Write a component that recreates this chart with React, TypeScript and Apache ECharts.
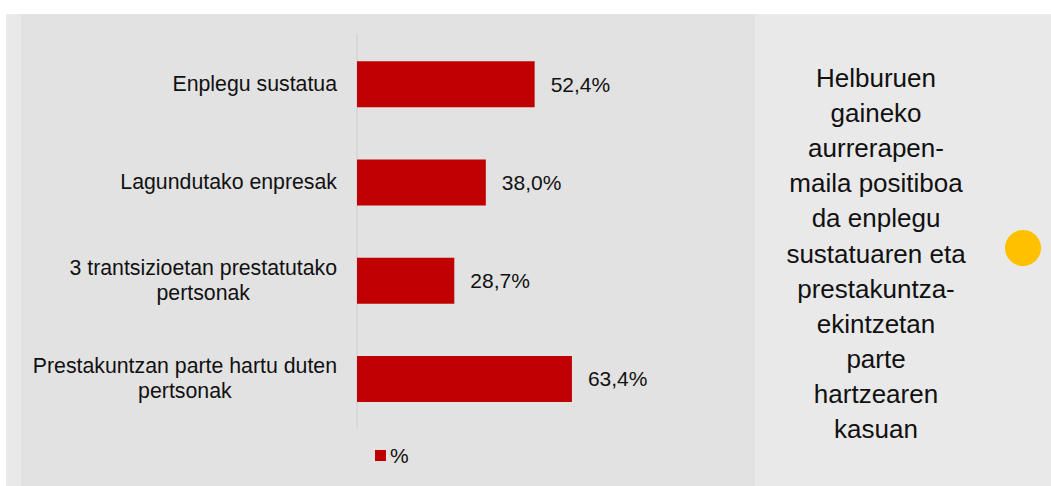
import React, { useEffect, useRef } from "react";
import * as echarts from "echarts";

const categories = [
  "Enplegu sustatua",
  "Lagundutako enpresak",
  "3 trantsizioetan prestatutako\npertsonak",
  "Prestakuntzan parte hartu duten\npertsonak",
];
const values = [52.4, 38.0, 28.7, 63.4];
const seriesName = "%";
const sideText = [
  "Helburuen",
  "gaineko",
  "aurrerapen-",
  "maila positiboa",
  "da enplegu",
  "sustatuaren eta",
  "prestakuntza-",
  "ekintzetan",
  "parte",
  "hartzearen",
  "kasuan",
];

const FONT = "'Liberation Sans', Arial, Helvetica, sans-serif";

export default function App() {
  const ref = useRef<HTMLDivElement>(null);
  useEffect(() => {
    if (!ref.current) return;
    const chart = echarts.init(ref.current, null, { renderer: "svg" });
    chart.setOption({
      animation: false,
      textStyle: { fontFamily: FONT },
      graphic: [
        { type: "rect", z: -10, shape: { x: 6, y: 14, width: 15, height: 472 }, style: { fill: "#e9e9e9" } },
        { type: "rect", z: -10, shape: { x: 21, y: 14, width: 734, height: 472 }, style: { fill: "#e2e2e2" } },
        { type: "rect", z: -10, shape: { x: 755, y: 14, width: 296, height: 472 }, style: { fill: "#e9e9e9" } },
        {
          type: "text",
          x: 876,
          y: 253.5,
          style: {
            text: sideText.join("\n"),
            fontFamily: FONT,
            fontSize: 26,
            lineHeight: 35.1,
            fill: "#111111",
            align: "center",
            verticalAlign: "middle",
          },
        },
        { type: "circle", shape: { cx: 1023, cy: 248, r: 18 }, style: { fill: "#ffc000" } },
      ],
      legend: {
        left: 370,
        top: 440,
        itemWidth: 11,
        itemHeight: 11,
        icon: "rect",
        data: [seriesName],
        textStyle: { fontSize: 21, color: "#111111", fontFamily: FONT, padding: [0, 0, 0, -1] },
      },
      grid: { left: 357, top: 35, width: 339, height: 393, containLabel: false },
      xAxis: { type: "value", min: 0, max: 100, show: false },
      yAxis: {
        type: "category",
        inverse: true,
        data: categories,
        axisLine: { show: true, lineStyle: { color: "#d4d4d4", width: 1.5 } },
        axisTick: { show: false },
        axisLabel: {
          margin: 20,
          color: "#111111",
          fontSize: 21.3,
          fontFamily: FONT,
          lineHeight: 25,
          formatter: (v: string) => v.split("\n").map((l) => `{c|${l}}`).join("\n"),
          rich: { c: { align: "center", fontSize: 21.3, lineHeight: 25, color: "#111111", fontFamily: FONT } },
        },
      },
      series: [
        {
          name: seriesName,
          type: "bar",
          data: values,
          barWidth: 46,
          itemStyle: { color: "#c00000" },
          label: {
            show: true,
            position: "right",
            distance: 16,
            fontSize: 21,
            color: "#111111",
            fontFamily: FONT,
            formatter: (p: any) => p.value.toFixed(1).replace(".", ",") + "%",
          },
        },
      ],
    });
    return () => chart.dispose();
  }, []);
  return (
    <div
      ref={ref}
      style={{ position: "absolute", left: 0, top: 0, width: 1051, height: 486, background: "#ffffff" }}
    />
  );
}
